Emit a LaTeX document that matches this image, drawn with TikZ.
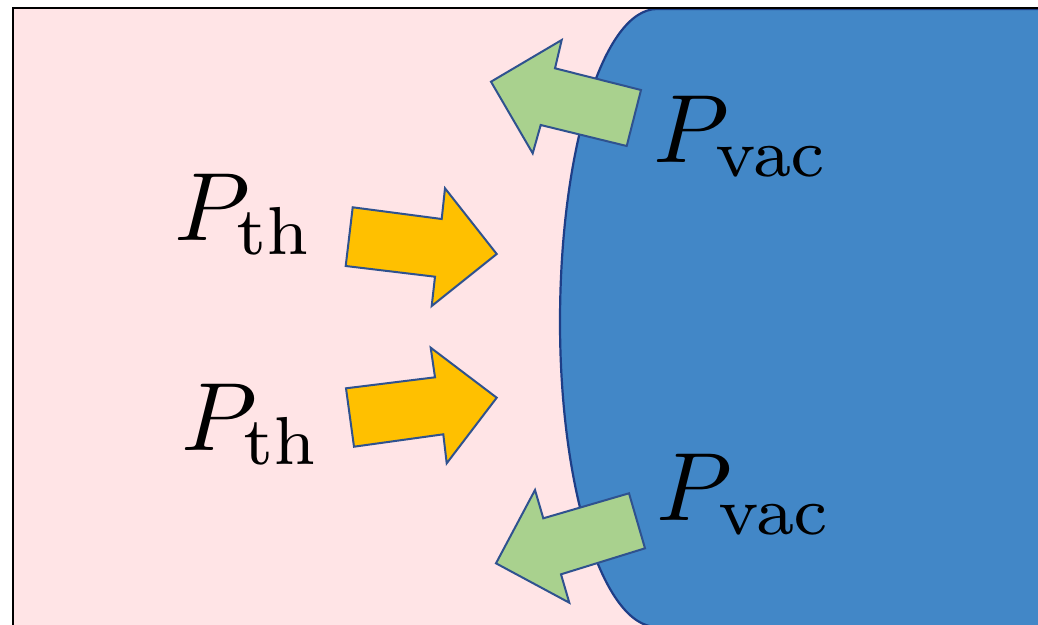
\documentclass[tikz,border=0pt]{standalone}
\definecolor{arrline}{RGB}{47,82,143}
\definecolor{yfill}{RGB}{255,192,0}
\definecolor{gfill}{RGB}{169,209,142}
\definecolor{pinkbg}{RGB}{255,228,230}
\definecolor{bluefill}{RGB}{66,135,199}
\definecolor{blueline}{RGB}{30,62,135}
\newcommand{\biglbl}[1]{\scalebox{9.7}{#1}}
\begin{document}
\begin{tikzpicture}[x=1pt,y=-1pt,
  arrowline/.style={draw=arrline,line width=2pt,line join=miter},
  yarrow/.style={arrowline,fill=yfill},
  garrow/.style={arrowline,fill=gfill},
  lbl/.style={inner sep=0pt,anchor=base west}]
\useasboundingbox (0,0) rectangle (1038,624);
\clip (0,0) rectangle (1038,624);
% pink region
\fill[pinkbg] (13,8) rectangle (1045,630);
% blue body
\draw[fill=bluefill,draw=blueline,line width=2.2pt]
  (1045,9) -- (657,9) .. controls (603.4,9) and (560,149) .. (560,322)
  .. controls (560,490.5) and (603.4,627) .. (657,627) -- (1045,640) -- cycle;
% black border
\draw[line width=2pt] (13,630) -- (13,8) -- (1045,8);
% yellow arrows
\draw[yarrow] (352.7,207.3) -- (441.7,219) -- (445,188.3) -- (496.7,254) -- (431.7,306) -- (435,276.7) -- (345.7,266) -- cycle;
\draw[yarrow] (346,388.3) -- (435,377.3) -- (430.7,347.7) -- (496.7,397.7) -- (446.7,463.3) -- (443.3,434.3) -- (354,446.7) -- cycle;
% green arrows
\draw[garrow] (491,81.7) -- (561.7,40) -- (555,68.3) -- (641,90) -- (626.7,146) -- (540.7,125) -- (532.7,153.3) -- cycle;
\draw[garrow] (496,563.3) -- (535,490) -- (543.3,518.3) -- (629,493.3) -- (645,548.3) -- (561,574.3) -- (569.3,602.7) -- cycle;
% labels
\node[lbl] (th1) at (174,240) {\biglbl{$P_{\mathrm{th}}$}};
\node[lbl] (th2) at (181,450) {\biglbl{$P_{\mathrm{th}}$}};
\node[lbl] (vac1) at (653,162) {\biglbl{$P_{\mathrm{vac}}$}};
\node[lbl] (vac2) at (656,520) {\biglbl{$P_{\mathrm{vac}}$}};
\end{tikzpicture}
\end{document}
